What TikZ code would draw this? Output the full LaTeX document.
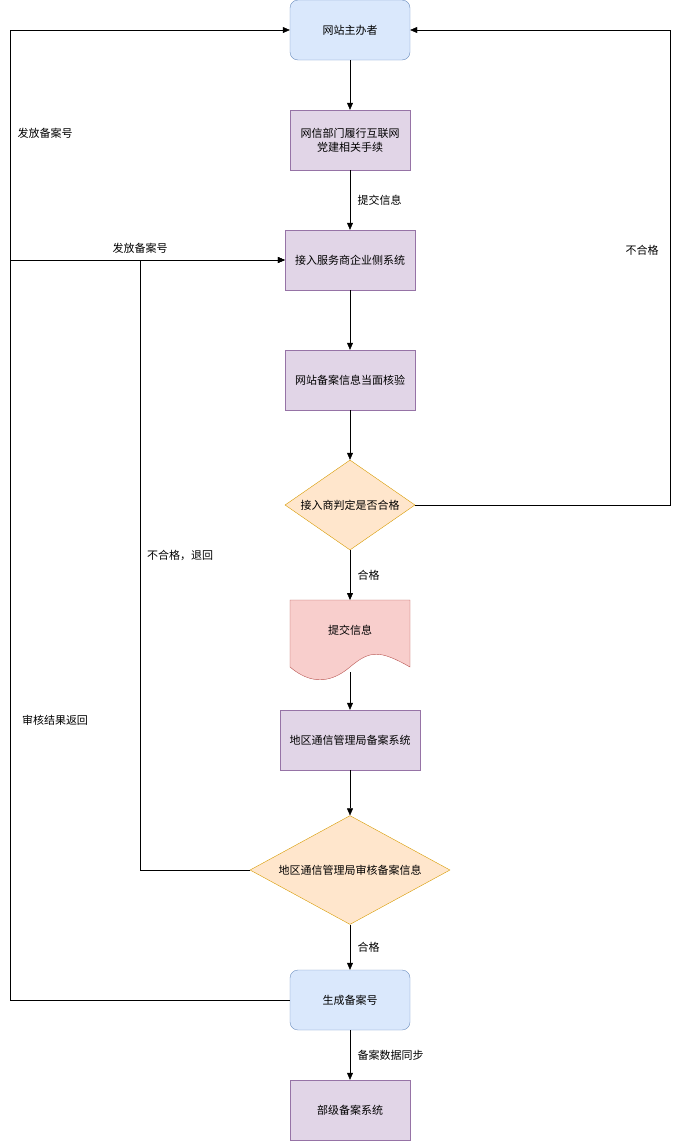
\documentclass[tikz,border=0pt]{standalone}
\usepackage{fontspec}
\setmainfont{Noto Sans CJK SC}
\usetikzlibrary{shapes.geometric,arrows.meta}
\definecolor{bluefill}{HTML}{DAE8FC}\definecolor{bluedraw}{HTML}{6C8EBF}
\definecolor{purpfill}{HTML}{E1D5E7}\definecolor{purpdraw}{HTML}{9673A6}
\definecolor{orfill}{HTML}{FFE6CC}\definecolor{ordraw}{HTML}{D79B00}
\definecolor{redfill}{HTML}{F8CECC}\definecolor{reddraw}{HTML}{B85450}
\begin{document}
\begin{tikzpicture}[x=1pt, y=-1pt, >={Triangle[length=7pt,width=6pt]}]
        \tikzset{
  every node/.style={font=\fontsize{11}{14}\selectfont},
  endnode/.style={
    rectangle, rounded corners=8pt, draw=bluedraw, fill=bluefill,
    minimum width=120pt, minimum height=60pt, align=center
  },
  stepnode/.style={
    rectangle, draw=purpdraw, fill=purpfill,
    minimum width=120pt, minimum height=60pt, align=center
  },
  decision/.style={
    diamond, aspect=1.45, draw=ordraw, fill=orfill, inner sep=0pt
  }
}
\useasboundingbox (0,0) rectangle (679,1141);

\node [endnode] (host) at (350,30) {网站主办者};
\node [stepnode] (cac) at (350,140) {网信部门履行互联网\\党建相关手续};
\node [stepnode, minimum width=130pt] (isp) at (350,260) {接入服务商企业侧系统};
\node [stepnode, minimum width=130pt] (check) at (350,380) {网站备案信息当面核验};
\node [decision, minimum width=130pt, minimum height=90pt] (ispok) at (350,505) {接入商判定是否合格};
% document shape
\draw [draw=reddraw, fill=redfill] (290,600) -- (410,600) -- (410,667)
  .. controls (380,650) and (370,650) .. (350,667)
  .. controls (330,684) and (310,684) .. (290,667) -- cycle;
\node (submit) at (350,630) {提交信息};
\coordinate (submitbot) at (350,672);
\node [stepnode, minimum width=140pt] (local) at (350,740) {地区通信管理局备案系统};
\node [decision, minimum width=200pt, minimum height=100pt] (localok) at (350,870) {地区通信管理局审核备案信息};
\node [endnode] (gen) at (350,1000) {生成备案号};
\node [stepnode] (minis) at (350,1110) {部级备案系统};

\draw [->] (host) -- (cac);
\draw [->] (cac) -- node [right=4pt] {提交信息} (isp);
\draw [->] (isp) -- (check);
\draw [->] (check) -- (ispok);
\draw [->] (ispok) -- node [right=4pt] {合格} (350,600);
\draw [->] (submitbot) -- (local);
\draw [->] (local) -- (localok);
\draw [->] (localok) -- node [right=4pt] {合格} (gen);
\draw [->] (gen) -- node [right=4pt] {备案数据同步} (minis);

\draw [->] (ispok.east) -- (670,505) -- (670,30) -- (host.east);
\node at (642,250) {不合格};
\draw [->] (localok.west) -- (140,870) -- (140,260) -- (isp.west);
\node at (180,555) {不合格，退回};
\draw [->] (gen.west) -- (10,1000) -- (10,30) -- (host.west);
\node at (55,720) {审核结果返回};
\node at (45,133) {发放备案号};
\draw [->] (10,260) -- (isp.west);
\node at (140,248) {发放备案号};
      \end{tikzpicture}
\end{document}
